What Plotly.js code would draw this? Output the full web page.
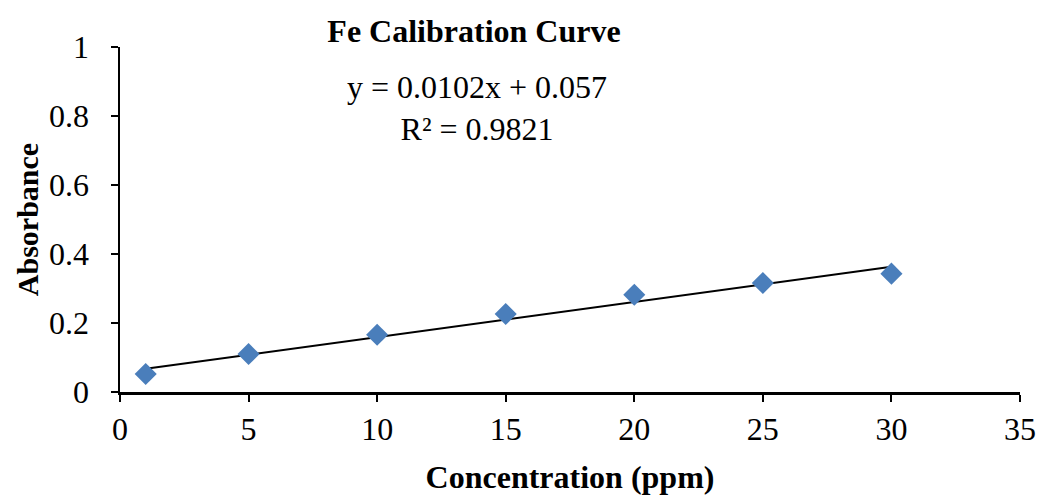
<!DOCTYPE html>
<html>
<head>
<meta charset="utf-8">
<script src="https://cdn.plot.ly/plotly-3.0.1.min.js"></script>
<style>
  html, body { margin: 0; padding: 0; background: #fff; }
  #chart { width: 1038px; height: 498px; }
</style>
</head>
<body>
<div id="chart"></div>
<script>
// Standards: concentration (ppm) and measured absorbance
const concentration = [1, 5, 10, 15, 20, 25, 30];
const absorbance = [0.052, 0.110, 0.166, 0.226, 0.282, 0.316, 0.343];

// Linear fit reported on the chart
const slope = 0.0102;
const intercept = 0.057;
const rSquared = 0.9821;

const xTicks = [0, 5, 10, 15, 20, 25, 30, 35];
const yTicks = [0, 0.2, 0.4, 0.6, 0.8, 1];

const fitX = [Math.min(...concentration), Math.max(...concentration)];
const fitY = fitX.map(x => slope * x + intercept);

const serif = 'Liberation Serif, Times New Roman, serif';

const traces = [
  {
    x: fitX, y: fitY, type: 'scatter', mode: 'lines',
    line: { color: '#000000', width: 2 },
    hoverinfo: 'skip', showlegend: false
  },
  {
    x: concentration, y: absorbance, type: 'scatter', mode: 'markers',
    marker: { symbol: 'diamond', size: 17, color: '#4A7EBB', line: { width: 0 } },
    showlegend: false
  }
];

const axisCommon = {
  showgrid: false, zeroline: false,
  showline: true, linecolor: '#000', linewidth: 2.5,
  ticks: 'outside', ticklen: 7, tickwidth: 2, tickcolor: '#000',
  tickfont: { family: serif, size: 32, color: '#000' }
};

const layout = {
  width: 1038, height: 498,
  margin: { l: 120, r: 18, t: 47, b: 106 },
  paper_bgcolor: '#fff', plot_bgcolor: '#fff',
  title: {
    text: '<b>Fe Calibration Curve</b>',
    font: { family: serif, size: 32, color: '#000' },
    x: 474 / 1038, xref: 'container', xanchor: 'center',
    y: 1 - 31 / 498, yref: 'container', yanchor: 'middle'
  },
  xaxis: Object.assign({}, axisCommon, {
    range: [0, 35], tickvals: xTicks, ticktext: xTicks.map(String),
    ticklabelstandoff: 0,
    title: { text: '<b>Concentration (ppm)</b>', font: { family: serif, size: 32, color: '#000' }, standoff: 20 }
  }),
  yaxis: Object.assign({}, axisCommon, {
    range: [0, 1], tickvals: yTicks, ticktext: yTicks.map(String),
    ticklabelstandoff: 15,
    title: { text: '<b>Absorbance</b>', font: { family: serif, size: 30, color: '#000' }, standoff: 2 }
  }),
  annotations: [
    {
      text: 'y = ' + slope + 'x + ' + intercept + '<br>R² = ' + rSquared,
      xref: 'paper', yref: 'paper', x: 0.397, y: 0.823,
      xanchor: 'center', yanchor: 'middle', showarrow: false, align: 'center',
      font: { family: serif, size: 32, color: '#000' }
    }
  ]
};

Plotly.newPlot('chart', traces, layout, { displayModeBar: false, staticPlot: true });
</script>
</body>
</html>
